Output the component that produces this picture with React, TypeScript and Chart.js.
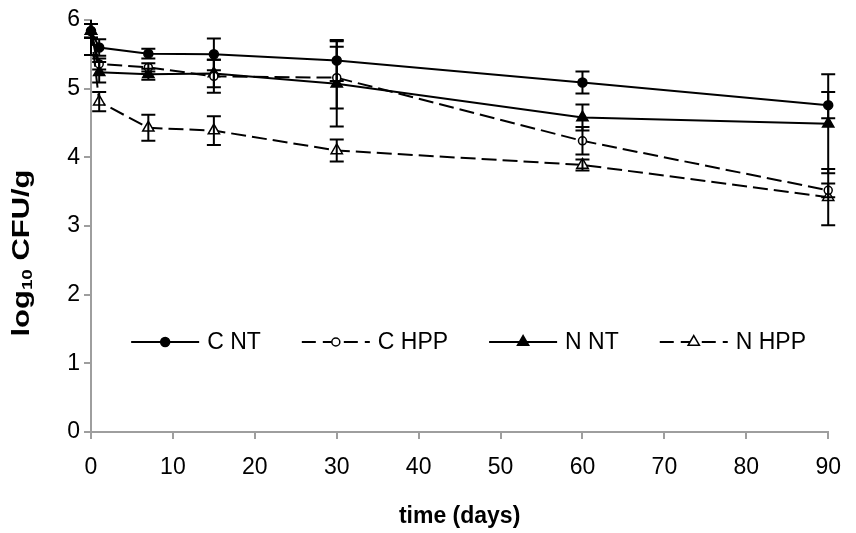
import React, { useEffect, useRef } from 'react';
import { Chart, registerables } from 'chart.js';

Chart.register(...registerables);

// ---------- data ----------
const DAYS = [0, 1, 7, 15, 30, 60, 90];
const SERIES_NAMES = ['C NT', 'C HPP', 'N NT', 'N HPP'];

const C_NT = [5.84, 5.6, 5.51, 5.5, 5.41, 5.09, 4.76];
const C_NT_ERR = [0.1, 0.12, 0.07, 0.23, 0.3, 0.16, 0.19];

const C_HPP = [5.84, 5.36, 5.31, 5.18, 5.16, 4.24, 3.52];
const C_HPP_ERR = [0.1, 0.08, 0.06, 0.24, 0.45, 0.2, 0.1];

const N_NT = [5.84, 5.24, 5.21, 5.22, 5.07, 4.58, 4.49];
const N_NT_ERR = [0.35, 0.15, 0.08, 0.2, 0.62, 0.19, 0.72];

const N_HPP = [5.84, 4.81, 4.43, 4.39, 4.1, 3.89, 3.42];
const N_HPP_ERR = [0.1, 0.14, 0.19, 0.21, 0.16, 0.08, 0.41];

const X_MIN = 0;
const X_MAX = 90;
const X_STEP = 10;
const Y_MIN = 0;
const Y_MAX = 6;
const Y_STEP = 1;

const X_TITLE = 'time (days)';
const Y_TITLE_PARTS = ['log', '10', ' CFU/g'];

// ---------- styles ----------
const FONT_FAMILY = '"Liberation Sans", Arial, Helvetica, sans-serif';
const AXIS_GRAY = '#9e9e9e';
const DASH = [15, 6];

const SERIES_VALUES = [C_NT, C_HPP, N_NT, N_HPP];
const SERIES_ERRORS = [C_NT_ERR, C_HPP_ERR, N_NT_ERR, N_HPP_ERR];
const SERIES_STYLE = [
  { dashed: false, shape: 'circle', filled: true, radius: 4.5 },
  { dashed: true, shape: 'circle', filled: false, radius: 4 },
  { dashed: false, shape: 'triangle', filled: true, radius: 6.5 },
  { dashed: true, shape: 'triangle', filled: false, radius: 6.5 },
];

function drawMarker(ctx: CanvasRenderingContext2D, shape: string, filled: boolean, r: number, x: number, y: number) {
  ctx.save();
  ctx.setLineDash([]);
  ctx.beginPath();
  if (shape === 'circle') {
    ctx.arc(x, y, r, 0, Math.PI * 2);
  } else {
    let rad = 0;
    ctx.moveTo(x + Math.sin(rad) * r, y - Math.cos(rad) * r);
    rad += (2 * Math.PI) / 3;
    ctx.lineTo(x + Math.sin(rad) * r, y - Math.cos(rad) * r);
    rad += (2 * Math.PI) / 3;
    ctx.lineTo(x + Math.sin(rad) * r, y - Math.cos(rad) * r);
    ctx.closePath();
  }
  ctx.fillStyle = filled ? '#000' : '#fff';
  ctx.fill();
  ctx.lineWidth = 1.5;
  ctx.strokeStyle = '#000';
  ctx.stroke();
  ctx.restore();
}

const errorBarPlugin = {
  id: 'errorBars',
  afterDatasetsDraw(chart: any) {
    const { ctx, chartArea } = chart;
    const xs = chart.scales.x;
    const ys = chart.scales.y;
    ctx.save();
    ctx.beginPath();
    ctx.rect(0, chartArea.top, chart.width, chartArea.bottom - chartArea.top);
    ctx.clip();
    ctx.strokeStyle = '#000';
    ctx.lineWidth = 2;
    ctx.setLineDash([]);
    const cap = 7;
    chart.data.datasets.forEach((ds: any, i: number) => {
      const errs = SERIES_ERRORS[i];
      ds.data.forEach((pt: any, j: number) => {
        const e = errs[j];
        if (!e) return;
        const px = xs.getPixelForValue(pt.x);
        const top = ys.getPixelForValue(pt.y + e);
        const bot = ys.getPixelForValue(pt.y - e);
        ctx.beginPath();
        ctx.moveTo(px, top);
        ctx.lineTo(px, bot);
        ctx.moveTo(px - cap, top);
        ctx.lineTo(px + cap, top);
        ctx.moveTo(px - cap, bot);
        ctx.lineTo(px + cap, bot);
        ctx.stroke();
      });
    });
    ctx.restore();
  },
};

const insideLegendPlugin = {
  id: 'insideLegend',
  afterDraw(chart: any) {
    const { ctx, chartArea } = chart;
    const font = `23px ${FONT_FAMILY}`;
    ctx.save();
    ctx.font = font;
    const lineLen = 68;
    const textGap = 8;
    const itemGap = 41;
    const widths = SERIES_NAMES.map((n) => lineLen + textGap + ctx.measureText(n).width);
    const total = widths.reduce((a, b) => a + b, 0) + itemGap * (widths.length - 1);
    const cx = (chartArea.left + chartArea.right) / 2 + 9;
    const cy = chartArea.bottom - 90;
    let x = cx - total / 2;
    SERIES_NAMES.forEach((name, i) => {
      const st = SERIES_STYLE[i];
      ctx.save();
      ctx.strokeStyle = '#000';
      ctx.lineWidth = 2;
      ctx.setLineDash(st.dashed ? [14, 7] : []);
      ctx.beginPath();
      ctx.moveTo(x, cy);
      ctx.lineTo(x + lineLen, cy);
      ctx.stroke();
      ctx.restore();
      drawMarker(ctx, st.shape, st.filled, st.radius, x + lineLen / 2, cy);
      ctx.fillStyle = '#000';
      ctx.textAlign = 'left';
      ctx.textBaseline = 'middle';
      ctx.font = font;
      ctx.fillText(name, x + lineLen + textGap, cy + 1);
      x += widths[i] + itemGap;
    });
    ctx.restore();
  },
};

const yTitlePlugin = {
  id: 'yTitle',
  afterDraw(chart: any) {
    const { ctx, chartArea } = chart;
    const big = `bold 23px ${FONT_FAMILY}`;
    const small = `bold 14px ${FONT_FAMILY}`;
    ctx.save();
    ctx.font = big;
    const a = ctx.measureText(Y_TITLE_PARTS[0]).width;
    ctx.font = small;
    const b = ctx.measureText(Y_TITLE_PARTS[1]).width;
    ctx.font = big;
    const c = ctx.measureText(Y_TITLE_PARTS[2]).width;
    const total = a + b + c;
    const cy = (chartArea.top + chartArea.bottom) / 2 + 27;
    ctx.translate(23, cy);
    ctx.rotate(-Math.PI / 2);
    ctx.scale(167 / total, 1);
    ctx.fillStyle = '#000';
    ctx.textAlign = 'left';
    ctx.textBaseline = 'middle';
    let x = -total / 2;
    ctx.font = big;
    ctx.fillText(Y_TITLE_PARTS[0], x, 0);
    x += a;
    ctx.font = small;
    ctx.fillText(Y_TITLE_PARTS[1], x, 5);
    x += b;
    ctx.font = big;
    ctx.fillText(Y_TITLE_PARTS[2], x, 0);
    ctx.restore();
  },
};

export default function App() {
  const canvasRef = useRef<HTMLCanvasElement | null>(null);

  useEffect(() => {
    document.body.style.margin = '0';
    document.body.style.overflow = 'hidden';
    const canvas = canvasRef.current;
    if (!canvas) return;

    const datasets = SERIES_NAMES.map((name, i) => {
      const st = SERIES_STYLE[i];
      return {
        label: name,
        data: DAYS.map((d, j) => ({ x: d, y: SERIES_VALUES[i][j] })),
        borderColor: '#000',
        borderWidth: 2,
        borderDash: st.dashed ? DASH : [],
        backgroundColor: st.filled ? '#000' : '#fff',
        pointStyle: st.shape,
        pointRadius: st.radius,
        pointBorderWidth: 1.5,
        pointBorderColor: '#000',
        pointBackgroundColor: st.filled ? '#000' : '#fff',
        pointHoverRadius: st.radius,
        tension: 0,
        fill: false,
        clip: false as any,
      };
    });

    const chart = new Chart(canvas, {
      type: 'line',
      data: { datasets },
      options: {
        animation: false,
        responsive: false,
        devicePixelRatio: 1,
        events: [],
        layout: { padding: { top: 20, right: 17, left: 0, bottom: 0 } },
        font: { family: FONT_FAMILY },
        plugins: {
          legend: { display: false },
          tooltip: { enabled: false },
          title: { display: false },
        },
        scales: {
          x: {
            type: 'linear',
            min: X_MIN,
            max: X_MAX,
            ticks: {
              stepSize: X_STEP,
              color: '#000',
              padding: 15,
              font: { size: 23, family: FONT_FAMILY },
            },
            grid: {
              display: true,
              drawOnChartArea: false,
              drawTicks: true,
              tickLength: 7,
              color: AXIS_GRAY,
              lineWidth: 2,
            },
            border: { display: true, color: AXIS_GRAY, width: 2 },
            title: {
              display: true,
              text: X_TITLE,
              color: '#000',
              font: { size: 23, weight: 'bold', family: FONT_FAMILY },
              padding: { top: 0, bottom: 3 },
            },
            afterFit: (scale: any) => {
              scale.height = 101;
            },
          },
          y: {
            type: 'linear',
            min: Y_MIN,
            max: Y_MAX,
            ticks: {
              stepSize: Y_STEP,
              color: '#000',
              padding: 4,
              font: { size: 23, family: FONT_FAMILY },
            },
            grid: {
              display: true,
              drawOnChartArea: false,
              drawTicks: true,
              tickLength: 7,
              color: AXIS_GRAY,
              lineWidth: 2,
            },
            border: { display: true, color: AXIS_GRAY, width: 2 },
            afterFit: (scale: any) => {
              scale.width = 91;
            },
          },
        },
      } as any,
      plugins: [errorBarPlugin, insideLegendPlugin, yTitlePlugin],
    });

    return () => {
      chart.destroy();
    };
  }, []);

  return (
    <canvas
      ref={canvasRef}
      width={856}
      height={533}
      style={{ display: 'block', width: '856px', height: '533px' }}
    />
  );
}
